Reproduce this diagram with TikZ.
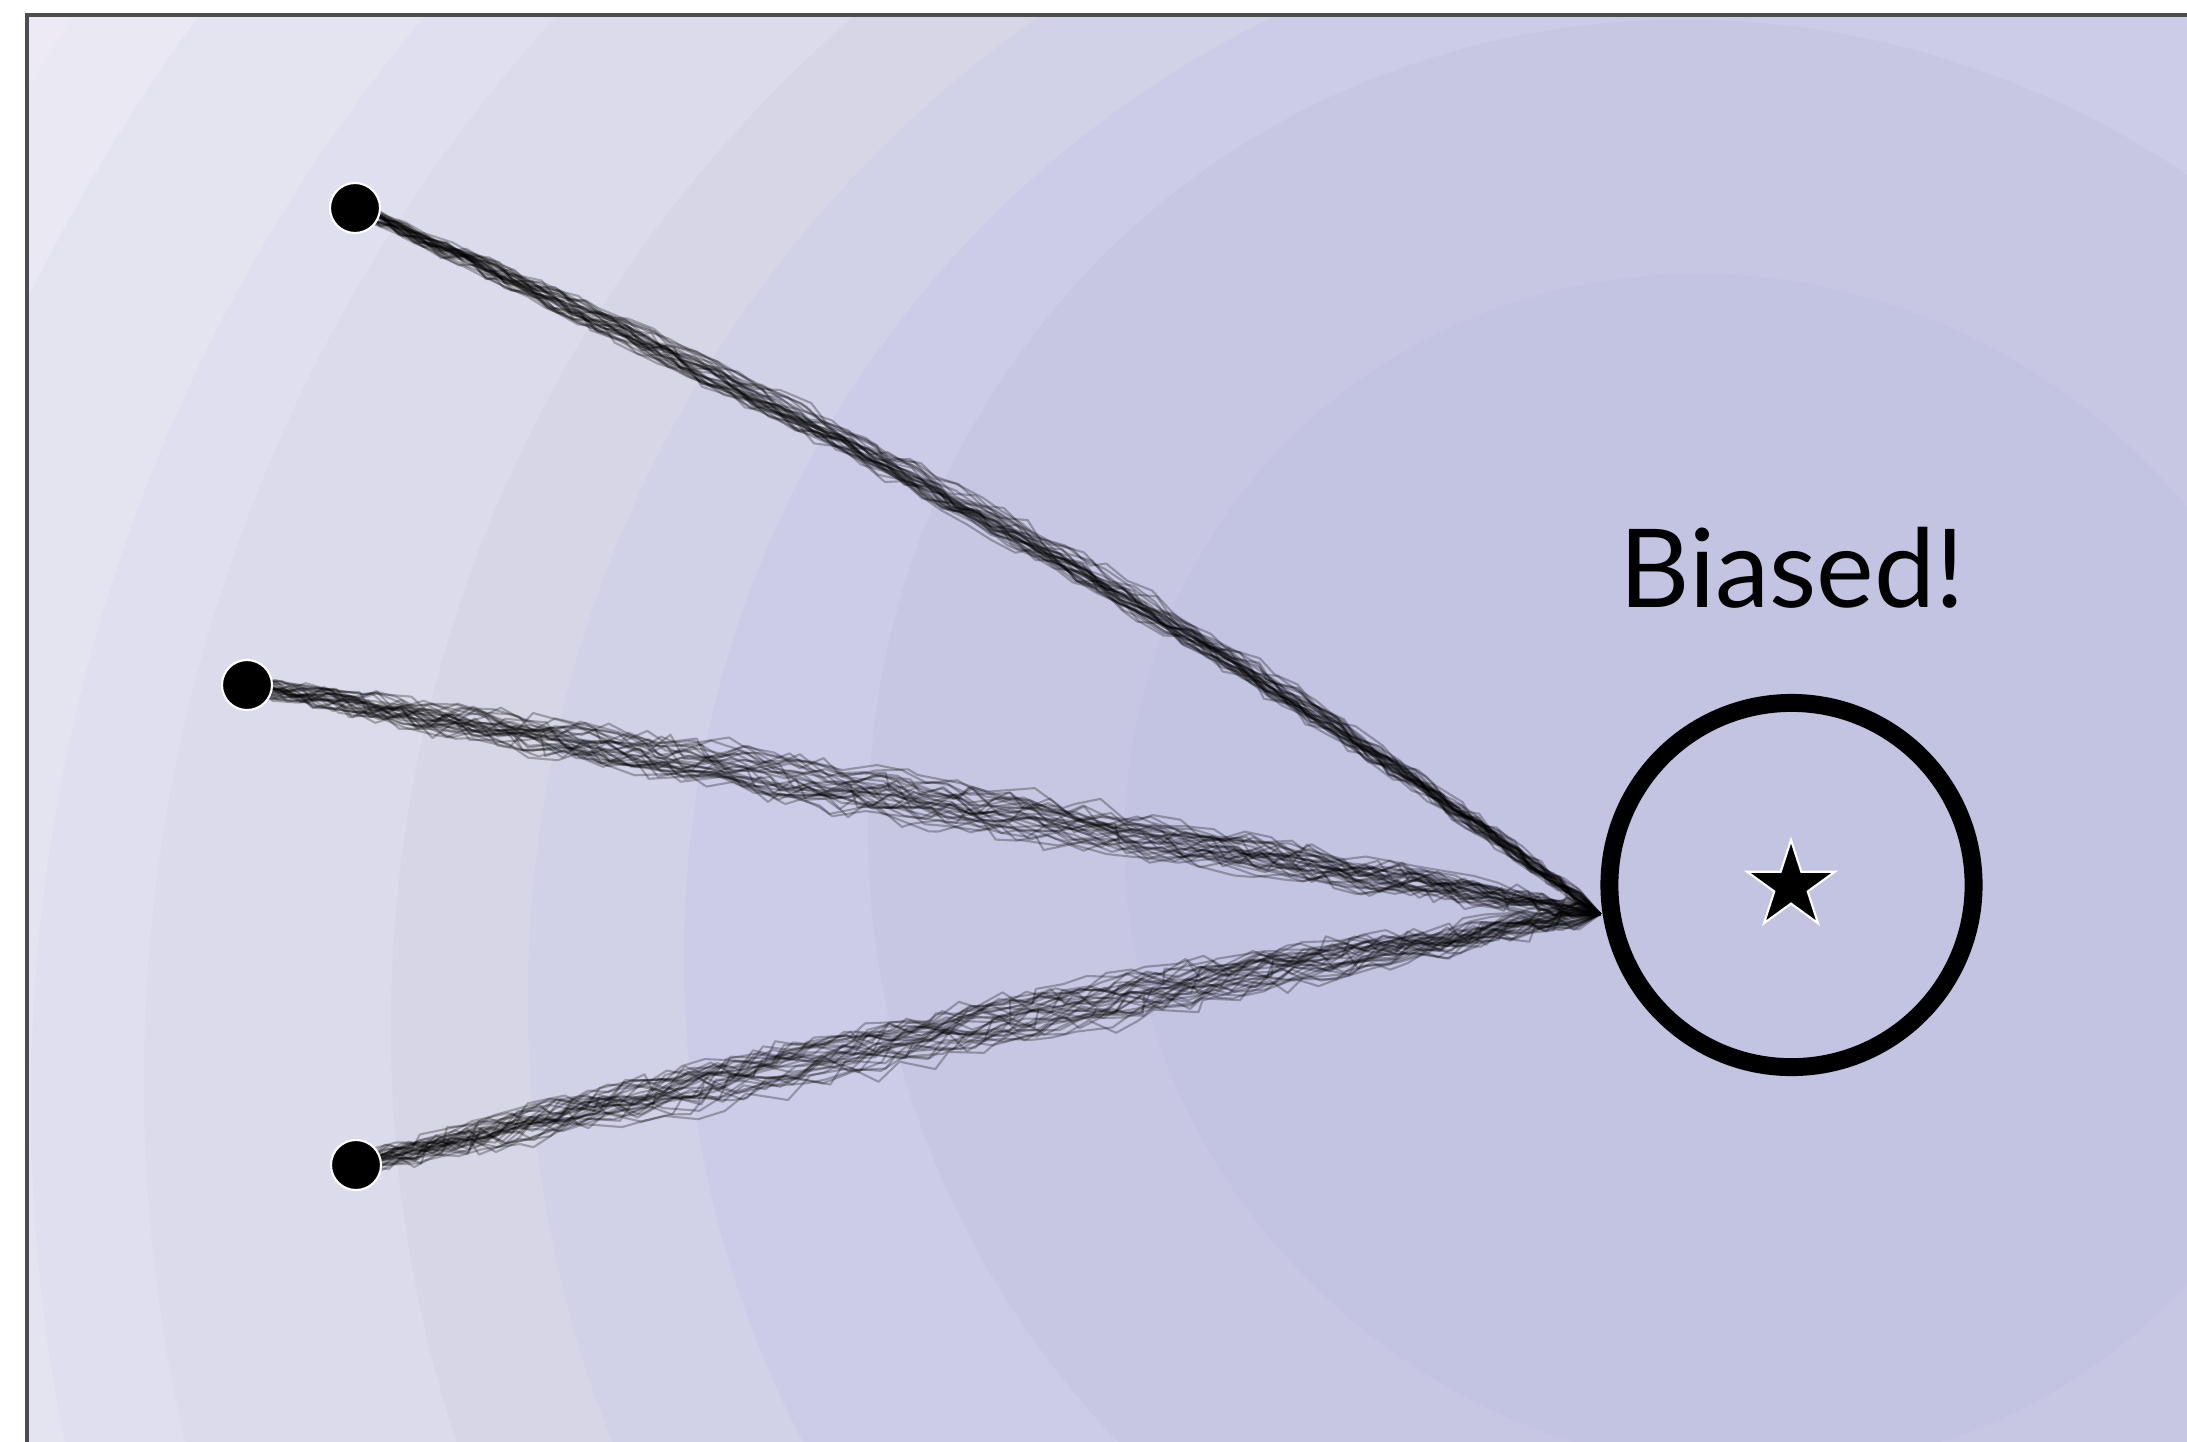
\documentclass[tikz,border=0pt]{standalone}
\usepackage{fontspec}
\newfontfamily\labelfont{Lato}
\usetikzlibrary{shapes.geometric,decorations.pathmorphing}
\definecolor{lv0}{HTML}{EEEAF5}
\definecolor{lv1}{HTML}{E9E8F3}
\definecolor{lv2}{HTML}{E4E3F0}
\definecolor{lv3}{HTML}{E0DFEF}
\definecolor{lv4}{HTML}{DCDBEB}
\definecolor{lv5}{HTML}{D7D6E6}
\definecolor{lv6}{HTML}{D1D1E7}
\definecolor{lv7}{HTML}{CCCCE8}
\definecolor{lv8}{HTML}{C7C7E3}
\definecolor{lv9}{HTML}{C3C3E2}
\definecolor{framecol}{HTML}{4D4D4D}
\pgfdeclarelayer{bands}
\pgfdeclarelayer{walks}
\pgfsetlayers{bands,walks,main}
\begin{document}
\begin{tikzpicture}[x=0.01cm,y=-0.01cm,
  walk/.style={draw=black, draw opacity=0.28, line width=0.6pt, line join=round, decorate},
  startdot/.style={circle, fill=black, draw=white, line width=0.6pt, minimum size=0.5cm, inner sep=0pt},
  goal/.style={circle, draw=black, line width=5.1pt, minimum size=3.64cm, inner sep=0pt},
  target/.style={star, star points=5, star point ratio=2.618, fill=black, draw=white, line width=0.6pt, minimum size=0.92cm, inner sep=0pt},
  caption/.style={font=\labelfont\fontsize{31}{37}\selectfont, anchor=base, inner sep=0pt}]
\useasboundingbox (0,0) rectangle (2187,1441);

% potential field: banded levels around the goal
\begin{pgfonlayer}{bands}
\fill[white] (0,0) rectangle (2187,1441);
\begin{scope}
  \clip (27,15) rectangle (2200,1460);
  \fill[lv0] (27,15) rectangle (2200,1460);
  \fill[lv1] (1728,1150) circle[radius=2005];
  \fill[lv2] (1728,1130) circle[radius=1892];
  \fill[lv3] (1728,1103) circle[radius=1697];
  \fill[lv4] (1728,1082) circle[radius=1584];
  \fill[lv5] (1728,1028) circle[radius=1337];
  \fill[lv6] (1728,999) circle[radius=1200];
  \fill[lv7] (1728,957) circle[radius=1044];
  \fill[lv8, shift={(1728,872)}, rotate=-40] (0,0) ellipse[x radius=878, y radius=834];
  \fill[lv9, shift={(1728,872)}, rotate=-40] (0,0) ellipse[x radius=616, y radius=585];
\end{scope}
\draw[framecol, line width=0.9pt] (27,1470) -- (27,15) -- (2210,15);
\end{pgfonlayer}

% start points, goal and label
\node[startdot] (a) at (355,208) {};
\node[startdot] (b) at (247,685) {};
\node[startdot] (c) at (356,1165) {};
\coordinate (m) at (1600,914);
\node[goal] (g) at (1791.5,885) {};
\node[target] (s) at (1791,886) {};
\node[caption] (lbl) at (1792,607) {Biased!};

% sampled trajectories
\begin{pgfonlayer}{walks}
\pgfmathsetseed{12}
\foreach \k in {1,...,32}{
  \pgfmathsetmacro\ua{rand*24}
  \pgfmathsetmacro\ub{rand*18}
  \draw[walk, decoration={random steps, segment length=7pt, amplitude=1.9pt}]
    (a.center) .. controls ({770-0.491*\ua},{395+0.871*\ua}) and ({1185-0.491*\ub},{599+0.871*\ub}) .. (m);
}
\foreach \k in {1,...,32}{
  \pgfmathsetmacro\ua{rand*35}
  \pgfmathsetmacro\ub{rand*30}
  \draw[walk, decoration={random steps, segment length=7.5pt, amplitude=3.2pt}]
    (b.center) .. controls ({698-0.167*\ua},{760+0.986*\ua}) and ({1149-0.167*\ub},{838+0.986*\ub}) .. (m);
}
\foreach \k in {1,...,32}{
  \pgfmathsetmacro\ua{rand*40}
  \pgfmathsetmacro\ub{rand*34}
  \draw[walk, decoration={random steps, segment length=7.5pt, amplitude=3.4pt}]
    (c.center) .. controls ({771+0.195*\ua},{1070+0.981*\ua}) and ({1185+0.195*\ub},{984+0.981*\ub}) .. (m);
}
\end{pgfonlayer}
\end{tikzpicture}
\end{document}
